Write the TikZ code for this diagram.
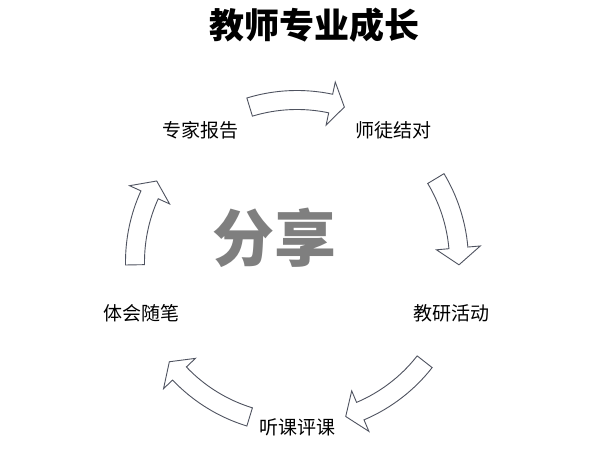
\documentclass[tikz,border=0pt]{standalone}
\usepackage{fontspec}
\newfontfamily\cjk{Noto Sans CJK SC}
\usetikzlibrary{calc}
\definecolor{rim}{HTML}{4F5360}
\definecolor{sharegray}{HTML}{7F7F7F}

\begin{document}
\begin{tikzpicture}[
  x=1pt, y=1pt,
  font=\cjk,
  lbl/.style={font=\cjk\fontsize{19}{19}\selectfont, inner sep=0pt},
  blk/.style={draw=rim, fill=white, line width=0.9pt, line join=miter}
]
\useasboundingbox (0,0) rectangle (600,450);
\coordinate (o) at (297,188);

\node[font=\cjk\bfseries\fontsize{35}{35}\selectfont, inner sep=0pt] (title) at (314,425) {教师专业成长};
\node[font=\cjk\bfseries\fontsize{62}{62}\selectfont, text=sharegray, inner sep=0pt] (share) at (274,212) {分享};

\node[lbl] (zj) at (200,320) {专家报告};
\node[lbl] (st) at (393,320) {师徒结对};
\node[lbl] (jy) at (451,137) {教研活动};
\node[lbl] (tk) at (297,23) {听课评课};
\node[lbl] (th) at (141,137) {体会随笔};

% curved block arrows, clockwise round (o)
\foreach \s/\b/\t in {107/78/73, 31/5/-1, -38/-67/-72.5, -107/-136.5/-142, 181/155.5/150}
  \draw[blk] ($(o)+(\s:171.5pt)$) arc[start angle=\s, end angle=\b, radius=171.5pt]
    -- ($(o)+(\b:184pt)$) -- ($(o)+(\t:162pt)$) -- ($(o)+(\b:140pt)$)
    -- ($(o)+(\b:152.5pt)$) arc[start angle=\b, end angle=\s, radius=152.5pt] -- cycle;
\end{tikzpicture}
\end{document}
